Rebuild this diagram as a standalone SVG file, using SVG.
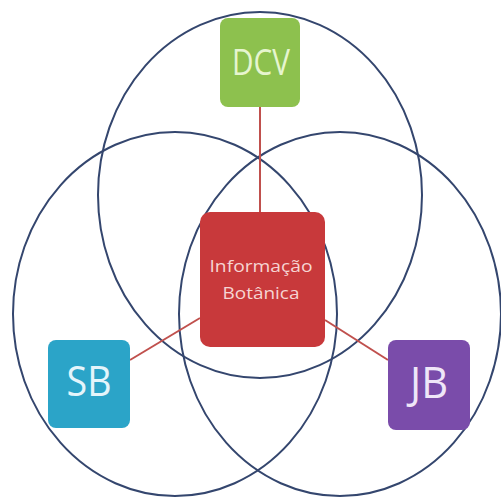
<svg xmlns="http://www.w3.org/2000/svg" width="501" height="501" viewBox="0 0 501 501">
<style>
.c{fill:none;stroke:#34466e;stroke-width:2}
.l{stroke:#c0504d;stroke-width:2;fill:none}
.t{font-family:"Open Sans","Liberation Sans",sans-serif;text-anchor:middle}
</style>
<rect width="501" height="501" fill="#ffffff"/>
<g id="circles">
<ellipse class="c" cx="260" cy="195" rx="162" ry="183"/>
<ellipse class="c" cx="175" cy="314" rx="162" ry="182"/>
<ellipse class="c" cx="340" cy="314" rx="161" ry="182"/>
</g>
<g id="connectors">
<line class="l" x1="260" y1="107" x2="260" y2="212"/>
<line class="l" x1="130" y1="360" x2="200" y2="318"/>
<line class="l" x1="388" y1="360" x2="325" y2="320"/>
</g>
<g id="dcv">
<rect x="220" y="18" width="80" height="89" rx="8" fill="#8dc14e"/>
<text class="t" x="261" y="75" font-size="37" fill="#e6f5cf" textLength="58" lengthAdjust="spacingAndGlyphs">DCV</text>
</g>
<g id="info">
<rect x="200" y="212" width="125" height="135" rx="10" fill="#c8393b"/>
<text class="t" x="261" y="272" font-size="17" fill="#f6d5d3" textLength="103" lengthAdjust="spacingAndGlyphs">Informação</text>
<text class="t" x="261" y="299" font-size="17" fill="#f6d5d3" textLength="77" lengthAdjust="spacingAndGlyphs">Botânica</text>
</g>
<g id="sb">
<rect x="48" y="340" width="82" height="88" rx="8" fill="#2ba4c8"/>
<text class="t" x="89" y="396" font-size="42" fill="#e4f5fb" textLength="45" lengthAdjust="spacingAndGlyphs">SB</text>
</g>
<g id="jb">
<rect x="388" y="340" width="82" height="90" rx="8" fill="#7a4caa"/>
<text class="t" x="429" y="398" font-size="44" fill="#efe6f8" textLength="38" lengthAdjust="spacingAndGlyphs">JB</text>
</g>
</svg>
